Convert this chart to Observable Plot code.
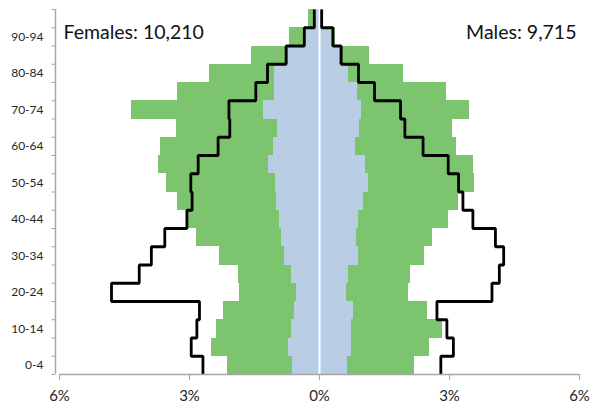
<!DOCTYPE html>
<html>
<head>
<meta charset="utf-8">
<script src="https://cdn.jsdelivr.net/npm/d3@7"></script>
<script src="https://cdn.jsdelivr.net/npm/@observablehq/plot@0.6"></script>
<style>
  html, body { margin: 0; padding: 0; background: #fff; }
  #chart { width: 597px; height: 408px; }
</style>
</head>
<body>
<div id="chart"></div>
<script>
const ages = ["0-4","5-9","10-14","15-19","20-24","25-29","30-34","35-39","40-44","45-49",
              "50-54","55-59","60-64","65-69","70-74","75-79","80-84","85-89","90-94","95-99"];
// percent of population, per age group (bottom to top)
const femaleGreen = [2.13, 2.50, 2.37, 2.21, 1.84, 1.87, 2.30, 2.84, 3.07, 3.28, 3.53, 3.72, 3.68, 3.30, 4.33, 3.28, 2.53, 1.57, 0.69, 0.25];
const femaleBlue  = [0.62, 0.71, 0.64, 0.58, 0.53, 0.64, 0.81, 0.88, 0.92, 0.99, 1.02, 1.18, 1.07, 0.96, 1.30, 1.03, 1.03, 0.72, 0.33, 0.085];
const femaleLine  = [2.69, 2.96, 2.83, 2.77, 4.80, 4.16, 3.88, 3.57, 3.06, 2.94, 2.97, 2.80, 2.34, 2.07, 2.09, 1.47, 1.20, 0.77, 0.35, 0.12];
const maleGreen   = [2.19, 2.53, 2.84, 2.49, 2.06, 2.11, 2.42, 2.60, 2.98, 3.21, 3.58, 3.56, 3.15, 3.08, 3.46, 2.93, 1.94, 1.16, 0.37, 0.07];
const maleBlue    = [0.65, 0.73, 0.73, 0.79, 0.62, 0.67, 0.91, 0.85, 0.89, 1.01, 1.14, 1.06, 0.83, 0.93, 0.98, 0.87, 0.68, 0.46, 0.28, 0.04];
const maleLine    = [2.80, 3.09, 2.94, 2.71, 3.98, 4.15, 4.25, 4.06, 3.54, 3.31, 3.21, 2.97, 2.39, 1.97, 1.87, 1.27, 0.90, 0.50, 0.31, 0.05];
const femaleTitle = "Females: 10,210";
const maleTitle = "Males: 9,715";
const xTicks = [-6, -3, 0, 3, 6];
const xTickLabels = ["6%", "3%", "0%", "3%", "6%"];

const rows = ages.map((age, i) => ({
  age, i,
  fg: femaleGreen[i], fb: femaleBlue[i],
  mg: maleGreen[i], mb: maleBlue[i]
}));
const stepPts = (vals, sign) => vals.flatMap((v, i) => [
  {x: sign * v, y: i}, {x: sign * v, y: i + 1}
]);
const femaleStep = stepPts(femaleLine, -1);
const maleStep = stepPts(maleLine, 1);

const green = "#7dc46e";
const blue = "#b9cde5";
const gray = "#a6a6a6";
const ink = "#262626";
const font = "Lato, 'Open Sans', sans-serif";
const crisp = {shapeRendering: "crispEdges"};

const chart = Plot.plot({
  width: 597,
  height: 408,
  marginLeft: 59,
  marginRight: 18,
  marginTop: 9,
  marginBottom: 34,
  style: {fontFamily: font, background: "#fff"},
  x: {domain: [-6, 6], axis: null},
  y: {domain: [0, ages.length], axis: null},
  marks: [
    Plot.rect(rows, {x1: 0, x2: d => -d.fg, y1: "i", y2: d => d.i + 1, fill: green, ...crisp}),
    Plot.rect(rows, {x1: 0, x2: "mg", y1: "i", y2: d => d.i + 1, fill: green, ...crisp}),
    Plot.rect(rows, {x1: 0, x2: d => -d.fb, y1: "i", y2: d => d.i + 1, fill: blue, ...crisp}),
    Plot.rect(rows, {x1: 0, x2: "mb", y1: "i", y2: d => d.i + 1, fill: blue, ...crisp}),
    Plot.ruleX([0], {stroke: "#fff", strokeWidth: 2}),
    Plot.line(femaleStep, {x: "x", y: "y", stroke: "#000", strokeWidth: 2.8, strokeLinejoin: "miter", strokeLinecap: "butt"}),
    Plot.line(maleStep, {x: "x", y: "y", stroke: "#000", strokeWidth: 2.8, strokeLinejoin: "miter", strokeLinecap: "butt"}),
    // axes
    Plot.ruleY([0], {stroke: gray, strokeWidth: 1.5}),
    Plot.axisX({ticks: xTicks, tickFormat: d => xTickLabels[xTicks.indexOf(d)], tickSize: 6, tickPadding: 10,
                fontSize: 15, stroke: gray, fill: ink}),
    Plot.ruleX([-6], {stroke: gray, strokeWidth: 1.5, dx: -4}),
    Plot.axisY({ticks: d3.range(0, ages.length + 1), tickSize: 3.5, tickFormat: () => "", stroke: gray, dx: -4}),
    Plot.axisY({ticks: rows.filter(d => d.i % 2 === 0).map(d => d.i + 0.5),
                tickFormat: v => ages[Math.floor(v)], tickSize: 0, tickPadding: 16,
                fontSize: 12, fill: ink}),
    // titles
    Plot.text([femaleTitle], {frameAnchor: "top-left", textAnchor: "start", lineAnchor: "top",
                              dx: 4, dy: 16, fontSize: 19.5, fill: "#111"}),
    Plot.text([maleTitle], {frameAnchor: "top-right", textAnchor: "end", lineAnchor: "top",
                            dx: -3, dy: 16, fontSize: 19.5, fill: "#111"})
  ]
});
document.getElementById("chart").append(chart);
</script>
</body>
</html>
